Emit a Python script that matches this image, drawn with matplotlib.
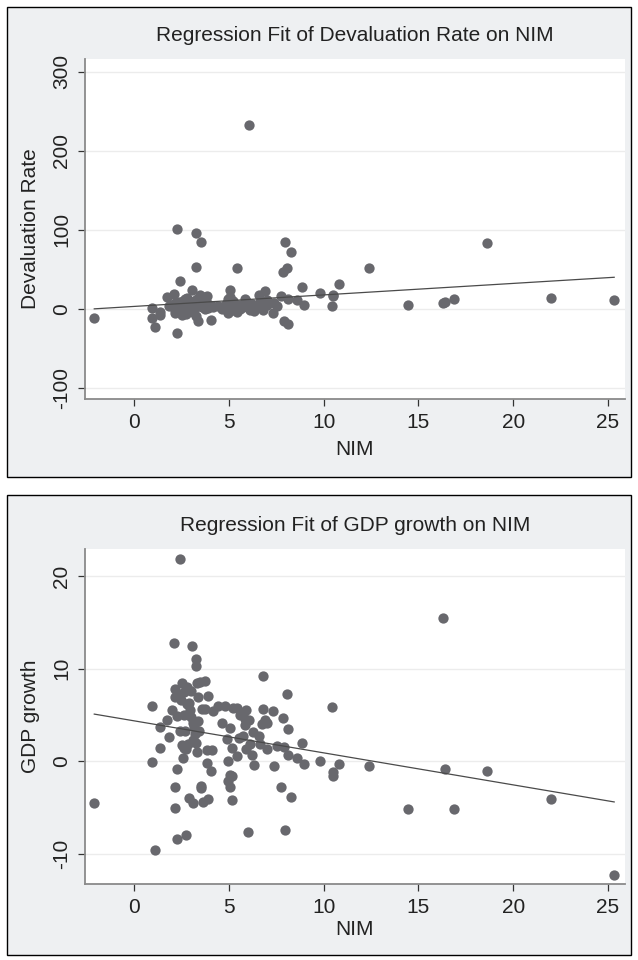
import numpy as np
import matplotlib
matplotlib.use("Agg")
import matplotlib.pyplot as plt
from matplotlib.patches import Rectangle

plt.rcParams['font.family'] = ['Liberation Sans', 'DejaVu Sans']

# NIM values shared by both panels (one country per entry)
nim = [-2.11, 0.92, 0.92, 1.09, 1.36, 1.36, 1.71, 1.85, 1.97, 2.11,
       2.15, 2.15, 2.15, 2.15, 2.24, 2.24, 2.24, 2.42, 2.5, 2.4,
       2.59, 2.71, 2.6, 2.7, 2.8, 2.5, 2.6, 2.75, 2.89, 2.9,
       2.95, 3.0, 3.06, 3.08, 3.1, 3.15, 3.2, 3.1, 3.0, 3.24,
       3.26, 3.3, 3.3, 3.38, 3.5, 3.5, 3.45, 3.55, 3.61, 3.73,
       3.75, 3.82, 3.82, 3.87, 3.9, 4.03, 4.08, 4.17, 4.43, 4.61,
       4.79, 4.91, 4.96, 4.96, 5.05, 5.05, 5.05, 5.14, 5.14, 5.14,
       5.23, 5.4, 5.4, 5.54, 5.6, 5.75, 5.84, 5.84, 5.9, 5.9,
       6.02, 6.04, 6.1, 6.23, 6.28, 6.33, 6.6, 6.63, 6.72, 6.81,
       6.81, 6.9, 7.0, 7.02, 7.34, 7.37, 7.51, 7.74, 7.83, 7.9,
       7.95, 8.04, 8.13, 8.13, 8.29, 8.57, 8.87, 8.97, 9.8, 10.42,
       10.5, 10.5, 10.8, 12.4, 14.44, 16.3, 16.4, 16.9, 18.63, 21.97,
       25.33, 2.35, 2.45, 2.8, 2.65, 3.25, 3.35, 2.85, 3.4]

gdp_growth = [-4.46, -0.07, 6.0, -9.5, 3.7, 1.47, 4.5, 2.6, 5.5, 12.8,
              7.8, 6.9, -2.75, -4.96, 4.9, -0.8, -8.3, 21.8, 8.5, 3.3,
              0.4, -7.9, 7.5, 3.3, 6.2, 1.8, 1.5, 1.3, -3.9, 6.3,
              5.5, 4.8, 12.4, -4.5, 4.2, 3.7, 3.0, 2.3, 7.6, 10.3,
              11.0, 8.5, 1.0, 7.0, -2.6, -2.85, 8.6, 5.65, -4.4, 5.65,
              8.7, 1.2, -0.14, -4.0, 7.07, -1.07, 1.2, 5.47, 6.0, 4.2,
              6.0, 2.4, 0.1, -2.14, -2.75, 3.6, -1.5, 1.43, -1.57, -4.18,
              5.8, 5.8, 0.57, 2.5, 5.0, 2.8, 3.9, 4.6, 1.37, 5.5,
              -7.57, 4.5, 1.9, 0.72, 3.15, -0.43, 2.7, 1.9, 4.04, 5.65,
              9.2, 4.5, 4.2, 1.36, 5.4, -0.53, 1.7, -2.7, 4.65, 1.6,
              -7.36, 7.3, 3.5, 0.75, -3.86, 0.36, 2.04, -0.32, 0.1, 5.83,
              -1.14, -1.57, -0.25, -0.5, -5.1, 15.5, -0.8, -5.1, -1.0, -4.0,
              -12.2, 7.2, 6.6, 8.0, 5.0, 2.0, 4.4, 1.9, 3.3]

devaluation = [-11.8, 1.6, -12.2, -22.4, -3.4, -7.6, 14.8, 3, 5, 19,
               2, -5, 8, -2, 101, -30, 4, 35.4, -8, 6,
               10, 0, -3, 12, 2, -1, 5, -6, 3, 8,
               -2, 1, 24, 6, -4, 10, 2, 7, -1, 96,
               53.5, 4, 12, -16, 84, 5, 18, 2, 15, 8,
               0, 16, 3, 6, 1, -14, 4, 2, 3, 0,
               5, 8, -5, 12, 24, 3, 15, -2, 7, 1,
               10, 52, -4, 5, 0, 2, 12, 8, 3, 10,
               4, 232, -2, 6, 1, -3, 18, 9, 2, -2,
               7, 22, 5, 11, -4.7, 8, 3, 15.6, 47, -14.8,
               84, 52, -19.4, 12, 72, 11.4, 28, 5, 19.5, 4,
               16.5, 18, 32, 51, 5, 7, 9, 13, 83, 14.3,
               11.4, 9, -3, 14, 1, -9, 3, 0, 7]

# fitted lines: (intercept, slope)
dev_fit = (3.05, 1.455)
gdp_fit = (4.38, -0.345)

panels = [
    dict(y=devaluation, fit=dev_fit, title="Regression Fit of Devaluation Rate on NIM",
         ylabel="Devaluation Rate", yticks=[-100, 0, 100, 200, 300], ylim=(-114, 316),
         frame=(0.503, 0.4896), box=(0.5844, 0.3542), xpad=6),
    dict(y=gdp_growth, fit=gdp_fit, title="Regression Fit of GDP growth on NIM",
         ylabel="GDP growth", yticks=[-10, 0, 10, 20], ylim=(-13.2, 22.9),
         frame=(0.005, 0.4792), box=(0.0792, 0.3489), xpad=2),
]

bg = '#eef0f2'
dot = '#68686d'
txt = '#222222'
fs = 15

fig = plt.figure(figsize=(6.38, 9.6), dpi=100)
fig.patch.set_facecolor('white')

for p in panels:
    y0, h = p['frame']
    fig.patches.append(Rectangle((0.011, y0), 0.978, h, transform=fig.transFigure,
                                 facecolor=bg, edgecolor='black', linewidth=1.0, zorder=-10))

    b, bh = p['box']
    ax = fig.add_axes([0.1332, b, 0.8464, bh])
    ax.set_facecolor('white')

    ax.scatter(nim, p['y'], s=55, color=dot, linewidths=0, zorder=3)
    xs = np.array([min(nim), max(nim)])
    ax.plot(xs, p['fit'][0] + p['fit'][1] * xs, color='#4a4a4a', linewidth=0.9, zorder=4)

    ax.set_xlim(-2.6, 25.9)
    ax.set_ylim(*p['ylim'])
    ax.set_xticks([0, 5, 10, 15, 20, 25])
    ax.set_yticks(p['yticks'])
    ax.set_yticklabels([str(v) for v in p['yticks']], rotation=90, va='center')
    ax.grid(axis='y', color='#ececec', linewidth=1.0, zorder=0)
    ax.set_axisbelow(True)

    for s in ['top', 'right']:
        ax.spines[s].set_visible(False)
    for s in ['left', 'bottom']:
        ax.spines[s].set_color('#8a8a8a')
        ax.spines[s].set_linewidth(1.3)
    ax.tick_params(direction='out', length=5, width=0.9, color='#333333',
                   labelsize=fs, labelcolor=txt, pad=5)

    ax.set_xlabel('NIM', fontsize=fs, color=txt, labelpad=p['xpad'])
    ax.set_ylabel(p['ylabel'], fontsize=fs, color=txt)
    ax.yaxis.set_label_coords(-0.1, 0.5)
    ax.yaxis.label.set_va('center')
    ax.set_title(p['title'], fontsize=fs, color=txt, pad=13)

fig.savefig('out.png', dpi=100, facecolor='white')
